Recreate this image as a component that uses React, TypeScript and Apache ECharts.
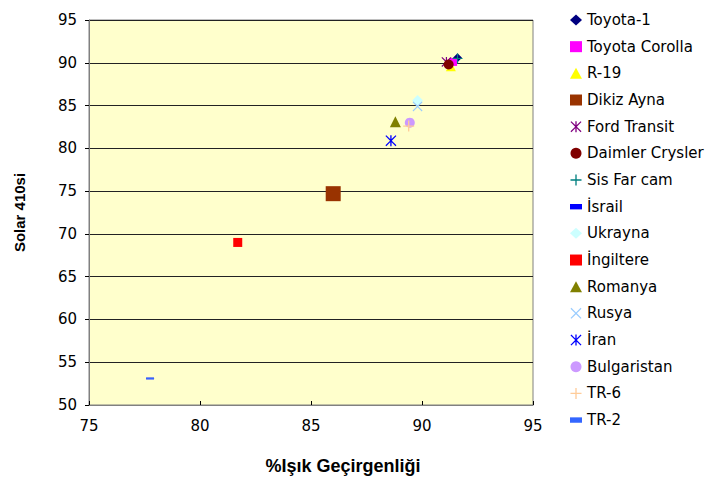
import React, { useEffect, useRef } from "react";
import * as echarts from "echarts";

// Light transmittance (%) and Solar 410 readings per sample
const names = [
  "Toyota-1", "Toyota Corolla", "R-19", "Dikiz Ayna", "Ford Transit", "Daimler Crysler",
  "Sis Far cam", "İsrail", "Ukrayna", "İngiltere", "Romanya", "Rusya", "İran",
  "Bulgaristan", "TR-6", "TR-2",
];
const xValues = [91.6, 91.4, 91.3, 86.0, 91.1, 91.2, 91.6, 77.75, 89.8, 81.7, 88.8, 89.8, 88.6, 89.45, 89.4, 77.75];
const yValues = [90.6, 90.1, 89.6, 74.7, 90.1, 89.8, 90.5, 53.1, 85.6, 69.0, 83.1, 84.9, 80.9, 83.0, 82.6, 53.1];
const xTicks = { min: 75, max: 95, step: 5 };
const yTicks = { min: 50, max: 95, step: 5 };
const colors = [
  "#000080", "#FF00FF", "#FFFF00", "#993300", "#800080", "#800000", "#008080", "#0000FF",
  "#CCFFFF", "#FF0000", "#808000", "#99CCFF", "#0000FF", "#CC99FF", "#FFCC99", "#3366FF",
];

const PLUS = "path://M4.4,0h1.2v4.4h4.4v1.2h-4.4v4.4h-1.2v-4.4h-4.4v-1.2h4.4z";
const CROSS = "path://M0,0.8L0.8,0L5,4.2L9.2,0L10,0.8L5.8,5L10,9.2L9.2,10L5,5.8L0.8,10L0,9.2L4.2,5Z";
const STAR = CROSS + "M4.4,0h1.2v10h-1.2z";
const DASH = "path://M0,0h10v4.5h-10z";

const symbols = [
  "diamond", "rect", "triangle", "rect", STAR, "circle", PLUS, DASH,
  "diamond", "rect", "triangle", CROSS, STAR, "circle", PLUS, DASH,
];
const sizes: (number | number[])[] = [9, 8, 10, 15, 10, 10, 10, [8, 3.6], 11, 9, 11, 10, 11, 10, 11, [8, 3.6]];

export default function App() {
  const ref = useRef<HTMLDivElement>(null);
  useEffect(() => {
    if (!ref.current) return;
    const chart = echarts.init(ref.current, undefined, { renderer: "svg" });
    const font = "Liberation Sans";
    const wide = "DejaVu Sans";
    chart.setOption({
      animation: false,
      backgroundColor: "#FFFFFF",
      grid: {
        left: 89, right: 176, top: 20, bottom: 74,
        show: true, backgroundColor: "#FFFFCC", borderColor: "#808080", borderWidth: 1,
      },
      xAxis: {
        type: "value", min: xTicks.min, max: xTicks.max, interval: xTicks.step,
        name: "%Işık Geçirgenliği", nameLocation: "middle", nameGap: 52,
        nameTextStyle: {
          fontFamily: font, fontSize: 18, fontWeight: "bold", color: "#000",
          padding: [0, 0, 0, 64],
        },
        axisLine: { show: true, onZero: false, lineStyle: { color: "#808080" } },
        axisTick: { show: true, inside: true, length: 4, lineStyle: { color: "#000" } },
        axisLabel: { fontFamily: wide, fontSize: 15, color: "#000", margin: 13 },
        splitLine: { show: false },
      },
      yAxis: {
        type: "value", min: yTicks.min, max: yTicks.max, interval: yTicks.step,
        name: "Solar 410si", nameLocation: "middle", nameGap: 62,
        nameTextStyle: { fontFamily: font, fontSize: 15, fontWeight: "bold", color: "#000" },
        axisLine: { show: true, onZero: false, lineStyle: { color: "#808080" } },
        axisTick: { show: true, inside: false, length: 4, lineStyle: { color: "#000" } },
        axisLabel: { fontFamily: wide, fontSize: 15, color: "#000", margin: 12 },
        splitLine: { show: true, lineStyle: { color: "#222", width: 1 } },
      },
      legend: {
        orient: "vertical", left: 565, top: 7,
        itemWidth: 12, itemHeight: 11, itemGap: 10.67,
        textStyle: { fontFamily: wide, fontSize: 15, color: "#000", lineHeight: 16 },
        data: names,
      },
      series: names.map((n, i) => ({
        name: n,
        type: "scatter",
        data: [[xValues[i], yValues[i]]],
        symbol: symbols[i],
        symbolSize: sizes[i],
        symbolKeepAspect: true,
        itemStyle: { color: colors[i], opacity: 1 },
        z: 2 + i,
      })),
    });
    return () => chart.dispose();
  }, []);
  return <div ref={ref} style={{ position: "absolute", left: 0, top: 0, width: 709, height: 480 }} />;
}
